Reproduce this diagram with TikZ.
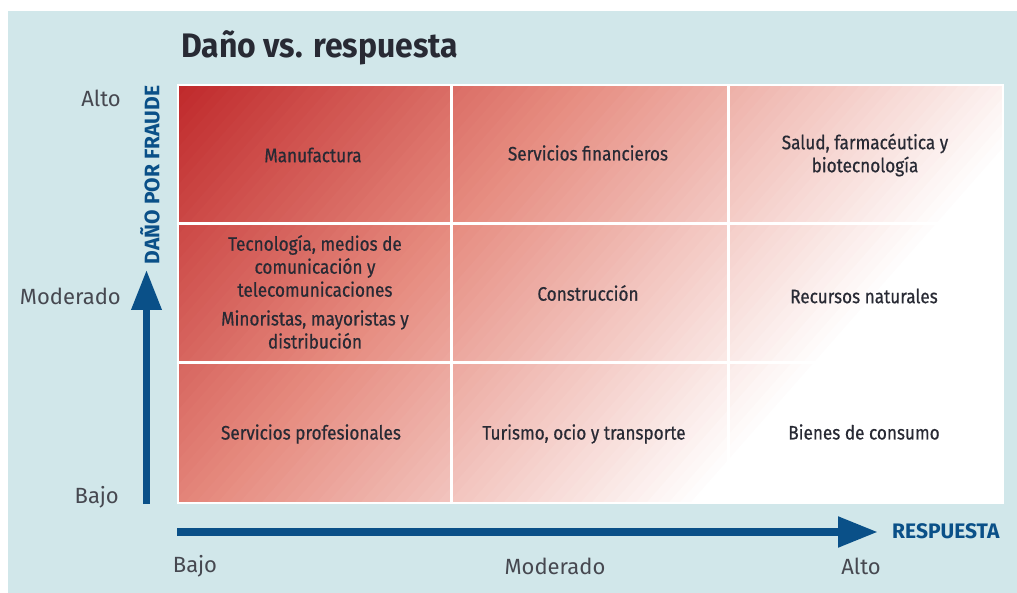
\documentclass[tikz,border=0pt]{standalone}
\usepackage{fontspec}
\setmainfont{Fira Sans}
\newfontfamily\condf{Fira Sans}[FakeStretch=0.94]
\newfontfamily\cellf{Fira Sans}[FakeStretch=0.88,FakeBold=0.6]
\usetikzlibrary{arrows.meta}
\definecolor{panelbg}{RGB}{209,231,234}
\definecolor{axisblue}{RGB}{10,80,136}
\definecolor{darktxt}{RGB}{40,42,52}
\definecolor{greytxt}{RGB}{70,72,80}
\definecolor{gradA}{RGB}{192,42,44}
\definecolor{gradM}{RGB}{230,140,128}
\tikzset{
  celltext/.style={align=center,text=darktxt,inner sep=0pt,font=\cellf\fontsize{19.5}{23}\selectfont},
  axval/.style={text=greytxt,inner sep=0pt,font=\fontsize{22}{26}\selectfont},
  axname/.style={text=axisblue,inner sep=0pt,font=\bfseries\fontsize{21}{24}\selectfont},
  axisarrow/.style={draw=axisblue,-{Triangle[length=40pt,width=29pt]}},
  divider/.style={draw=white,line width=3pt},
}
\begin{document}
\begin{tikzpicture}[x=1pt,y=-1pt]
\useasboundingbox (0,0) rectangle (1017,593);
\fill[white] (0,0) rectangle (1017,593);
\fill[panelbg] (8,11) rectangle (1017,593);
% gradient grid
\begin{scope}
\clip (178,85) rectangle (1003,503);
\foreach \i in {0,...,80}{
  \pgfmathsetmacro\myt{\i/80}
  \pgfmathsetmacro\mypa{min(100,\myt/0.45*100)}
  \pgfmathsetmacro\mypb{max(0,(\myt-0.45)/0.55*100)}
  \pgfmathsetmacro\myxo{178+880*\myt}
  \colorlet{cca}{gradM!\mypa!gradA}
  \colorlet{ccb}{white!\mypb!cca}
  \fill[ccb] (\myxo+880,-915) -- (\myxo-880,1085) -- (\myxo+2120,1085) -- (\myxo+3880,-915) -- cycle;
}
\end{scope}
\draw[white,line width=1.5pt] (178,85) rectangle (1003,503);
\draw[divider] (451.5,85) -- (451.5,503);
\draw[divider] (728,85) -- (728,503);
\draw[divider] (178,224) -- (1003,224);
\draw[divider] (178,363) -- (1003,363);
% title
\node[anchor=west,inner sep=0pt,text=darktxt,font=\condf\bfseries\fontsize{34}{38}\selectfont] (title) at (181,48) {Daño vs. respuesta};
% cells
\node[celltext] (c11) at (313,155) {Manufactura};
\node[celltext] (c12) at (588,153) {Servicios financieros};
\node[celltext] (c13) at (865,155) {Salud, farmacéutica y\\biotecnología};
\node[celltext] (c21a) at (315,266) {Tecnología, medios de\\comunicación y\\telecomunicaciones};
\node[celltext] (c21b) at (315,329.5) {Minoristas, mayoristas y\\distribución};
\node[celltext] (c22) at (588,293) {Construcción};
\node[celltext] (c23) at (864,296) {Recursos naturales};
\node[celltext] (c31) at (311,434) {Servicios profesionales};
\node[celltext] (c32) at (584,434) {Turismo, ocio y transporte};
\node[celltext] (c33) at (864,432) {Bienes de consumo};
% axis values
\node[axval,anchor=east] (yalto) at (121,98) {Alto};
\node[axval,anchor=east] (ymod) at (121,296) {Moderado};
\node[axval,anchor=east] (ybajo) at (119,497) {Bajo};
\node[axval] (xbajo) at (195,566) {Bajo};
\node[axval] (xmod) at (555,566) {Moderado};
\node[axval] (xalto) at (861,566) {Alto};
% axes
\coordinate (vstart) at (146.5,504);
\coordinate (vend) at (146.5,270);
\coordinate (hstart) at (177,532);
\coordinate (hend) at (878,532);
\draw[axisarrow,line width=7pt] (vstart) -- (vend);
\draw[axisarrow,line width=8pt] (hstart) -- (hend);
\node[axname,rotate=90] (yname) at (150,175) {DAÑO POR FRAUDE};
\node[axname,anchor=west] (xname) at (892,531) {RESPUESTA};
\end{tikzpicture}
\end{document}
